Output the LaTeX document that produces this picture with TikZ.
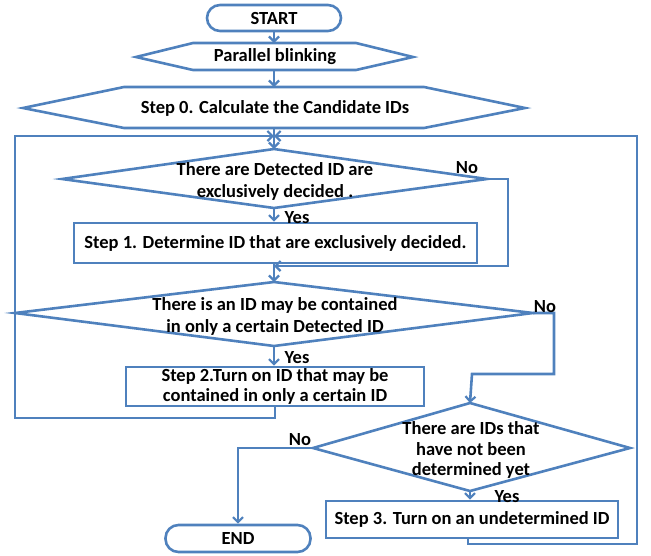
\documentclass[tikz,border=0pt]{standalone}
\usepackage{fontspec}
\setmainfont{Carlito}
\usetikzlibrary{arrows.meta}
\definecolor{lb}{RGB}{79,129,189}
\begin{document}
\begin{tikzpicture}[x=1pt,y=-1pt,
  outline/.style={draw=lb, line width=2.6pt, fill=white, line join=miter},
  txt/.style={font=\bfseries\fontsize{18.5}{22}\selectfont, align=center, inner sep=0pt, text=black},
  lbl/.style={font=\bfseries\fontsize{18.5}{22}\selectfont, inner sep=0pt, text=black},
  box/.style={outline, rectangle, txt, inner sep=0pt},
  term/.style={outline, rectangle, rounded corners=13pt, txt},
  conn/.style={draw=lb, line width=2.6pt},
  arr/.style={conn, -{Straight Barb[length=5pt,width=10pt,line width=2.2pt]}}]
\useasboundingbox (0,0) rectangle (651,555);

% terminals
\node[term, minimum width=134pt, minimum height=26pt] (start) at (274,18) {START};
\node[term, minimum width=145pt, minimum height=27pt] (end) at (238,538.5) {END};

% hexagon: Parallel blinking
\coordinate (pt) at (274,43); \coordinate (pb) at (274,70);
\draw[outline] (136,57) -- (193,43) -- (356,43) -- (413,57) -- (356,70) -- (193,70) -- cycle;
\node[txt] (par) at (275,57) {Parallel blinking};

% hexagon: Step 0
\coordinate (s0t) at (274,87); \coordinate (s0b) at (274,128);
\draw[outline] (23,108) -- (124,87) -- (424,87) -- (525,108) -- (424,128) -- (124,128) -- cycle;
\node[txt] (s0) at (275,108) {Step 0. Calculate the Candidate IDs};

% diamond 1
\coordinate (d1t) at (274,149); \coordinate (d1r) at (487,179);
\coordinate (d1b) at (274,208); \coordinate (d1l) at (62,179);
\draw[outline] (d1t) -- (d1r) -- (d1b) -- (d1l) -- cycle;
\node[txt] (d1) at (275,181) {There are Detected ID are\\exclusively decided .};

% step 1
\node[box, minimum width=403pt, minimum height=40pt] (s1) at (275.5,243) {Step 1. Determine ID that are exclusively decided.};

% diamond 2
\coordinate (d2t) at (274,282); \coordinate (d2r) at (533,313);
\coordinate (d2b) at (274,346); \coordinate (d2l) at (15,313);
\draw[outline] (d2t) -- (d2r) -- (d2b) -- (d2l) -- cycle;
\node[txt] (d2) at (275,316) {There is an ID may be contained\\in only a certain Detected ID};

% step 2
\node[box, minimum width=298pt, minimum height=39pt, font=\bfseries\fontsize{18.5}{20.5}\selectfont] (s2) at (275,386.5) {Step 2.Turn on ID that may be\\contained in only a certain ID};

% diamond 3
\coordinate (d3t) at (470,403); \coordinate (d3r) at (630,448);
\coordinate (d3b) at (470,491); \coordinate (d3l) at (313,448);
\draw[outline] (d3t) -- (d3r) -- (d3b) -- (d3l) -- cycle;
\node[txt, font=\bfseries\fontsize{18.5}{20.5}\selectfont] (d3) at (471,450) {There are IDs that\\have not been\\determined yet};

% step 3
\node[box, minimum width=292pt, minimum height=37pt] (s3) at (472,519.5) {Step 3. Turn on an undetermined ID};

% loop junction
\coordinate (j) at (274,136);

% main connectors
\draw[arr] (start.south) -- (pt);
\draw[arr] (pb) -- (s0t);
\draw[arr] (s0b) -- (d1t);
\draw[arr] (d1b) -- (d1b |- s1.north);
\draw[arr] (d1b |- s1.south) -- (d2t);
\draw[arr] (d2b) -- (d2b |- s2.north);
\draw[arr] (d3b) -- (d3b |- s3.north);

% No branches
\draw[arr] (d1r) -- (508,179) -- (508,266) -- (274,266);
\draw[arr] (d2r) -- (554,313) -- (554,374) -- (472,374) -- (d3t);
\draw[arr] (d3l) -- (238,448) -- (end.north);

% loops back
\draw[arr] (s2.south) -- (275,418) -- (15,418) -- (15,136) -- (j);
\draw[arr] (468,538) -- (468,544) -- (637,544) -- (637,136) -- (j);

% labels
\node[lbl] (no1) at (467,168) {No};
\node[lbl] (yes1) at (297,218) {Yes};
\node[lbl] (no2) at (545,307) {No};
\node[lbl] (yes2) at (297,358) {Yes};
\node[lbl] (no3) at (300,440) {No};
\node[lbl] (yes3) at (507,497) {Yes};
\end{tikzpicture}
\end{document}
